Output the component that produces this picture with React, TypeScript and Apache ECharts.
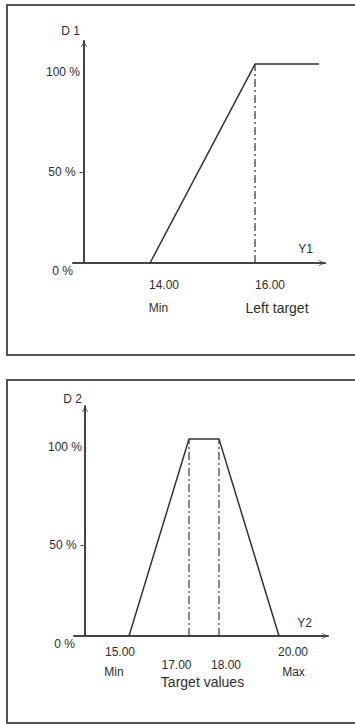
import React, { useEffect, useRef } from "react";
import * as echarts from "echarts";

// ---- data ----
const Y1_POINTS = [14, 16, 17.22];
const D1_POINTS = [0, 100, 100];
const Y1_TARGETS = [16];

const Y2_POINTS = [15, 17, 18, 20];
const D2_POINTS = [0, 100, 100, 0];
const Y2_TARGETS = [17, 18];

const D_TICKS = [0, 50, 100];
const D_TICK_LABELS = ["0 %", "50 % -", "100 %"];

const Y1_NUM_TICKS = [14, 16];
const Y1_NUM_LABELS = ["14.00", "16.00"];
const Y1_NAME_LABELS = ["Min", "Left target"];

const Y2_OUTER_TICKS = [15, 20];
const Y2_OUTER_LABELS = ["15.00", "20.00"];
const Y2_OUTER_NAMES = ["Min", "Max"];
const Y2_TARGET_TICKS = [17, 18];
const Y2_TARGET_LABELS = ["17.00", "18.00"];
const Y2_GROUP_TICK = [17.5];
const Y2_GROUP_LABEL = ["Target values"];

// ---- styling ----
const FONT = "'Liberation Sans', Arial, sans-serif";
const TXT = "#2e2e2e";
const LINE = "#333";
const AXIS = "#444";
const ARROW = "path://M0,10 L5,0 L10,10 L8.6,10 L5,2.6 L1.4,10 Z";

function idxOf(values: number[], v: number) {
  let best = 0;
  for (let i = 0; i < values.length; i++) {
    if (Math.abs(values[i] - v) < Math.abs(values[best] - v)) best = i;
  }
  return best;
}

function labelAxis(
  gridIndex: number,
  min: number,
  max: number,
  values: number[],
  labels: string[],
  shifts: number[],
  margin: number,
  sizes: number[]
) {
  const rich: any = {};
  values.forEach((_, i) => {
    const s = shifts[i] || 0;
    rich["s" + i] = {
      fontSize: sizes[i],
      fontFamily: FONT,
      color: TXT,
      padding: s >= 0 ? [0, 0, 0, 2 * s] : [0, -2 * s, 0, 0],
    };
  });
  return {
    type: "value",
    gridIndex,
    min,
    max,
    position: "bottom",
    axisLine: { show: false, onZero: false },
    axisTick: { show: false },
    splitLine: { show: false },
    axisLabel: {
      customValues: values,
      margin,
      align: "center",
      verticalAlign: "middle",
      fontSize: sizes[0],
      fontFamily: FONT,
      color: TXT,
      formatter: (v: number) => {
        const i = idxOf(values, v);
        return "{s" + i + "|" + labels[i] + "}";
      },
      rich,
    },
  };
}

function mainX(gridIndex: number, min: number, max: number, name: string, nameGap: number, padBottom: number) {
  return {
    type: "value",
    gridIndex,
    min,
    max,
    position: "bottom",
    name,
    nameLocation: "end",
    nameGap,
    nameTextStyle: {
      align: "right",
      verticalAlign: "bottom",
      padding: [0, 0, padBottom, 0],
      fontSize: 12,
      fontFamily: FONT,
      color: TXT,
    },
    axisLine: {
      show: true,
      onZero: false,
      symbol: ["none", ARROW],
      symbolSize: [8, 6],
      symbolOffset: [0, -3],
      lineStyle: { color: AXIS, width: 2 },
    },
    axisTick: { show: false },
    axisLabel: { show: false },
    splitLine: { show: false },
  };
}

function mainY(gridIndex: number, max: number, name: string, nameGap: number, padRight: number, labelPads: number[]) {
  const rich: any = {};
  D_TICKS.forEach((_, i) => {
    rich["d" + i] = {
      fontSize: 12,
      fontFamily: FONT,
      color: TXT,
      lineHeight: 16,
      padding: [0, labelPads[i], 0, 0],
    };
  });
  return {
    type: "value",
    gridIndex,
    min: 0,
    max,
    offset: -11,
    name,
    nameLocation: "end",
    nameGap,
    nameTextStyle: {
      align: "right",
      verticalAlign: "bottom",
      padding: [0, padRight, 0, 0],
      fontSize: 12,
      fontFamily: FONT,
      color: TXT,
    },
    axisLine: {
      show: true,
      onZero: false,
      symbol: ["none", ARROW],
      symbolSize: [8, 6],
      symbolOffset: [0, -3],
      lineStyle: { color: AXIS, width: 2 },
    },
    axisTick: { show: false },
    splitLine: { show: false },
    axisLabel: {
      customValues: D_TICKS,
      margin: 1,
      align: "right",
      verticalAlign: "top",
      fontSize: 12,
      fontFamily: FONT,
      color: TXT,
      formatter: (v: number) => {
        const i = idxOf(D_TICKS, v);
        return "{d" + i + "|" + D_TICK_LABELS[i] + "}";
      },
      rich,
    },
  };
}

export default function App() {
  const ref = useRef<HTMLDivElement>(null);

  useEffect(() => {
    if (!ref.current) return;
    const chart = echarts.init(ref.current, undefined, { renderer: "svg" });

    const x1min = 12.533, x1max = 17.333;
    const x2min = 13.167, x2max = 21.633;

    const targetSeries = (targets: number[], xAxisIndex: number, yAxisIndex: number) =>
      targets.map((t) => ({
        type: "line",
        xAxisIndex,
        yAxisIndex,
        symbol: "none",
        silent: true,
        data: [
          [t, 0],
          [t, 100],
        ],
        lineStyle: { color: LINE, width: 1.2, type: [8, 3, 2, 3] },
      }));

    const option: any = {
      animation: false,
      backgroundColor: "#fff",
      grid: [
        { left: 73, top: 41, width: 252, height: 222 },
        { left: 74, top: 406, width: 254, height: 230 },
      ],
      xAxis: [
        mainX(0, x1min, x1max, "Y1", -12, 8), // 0
        labelAxis(0, x1min, x1max, Y1_NUM_TICKS, Y1_NUM_LABELS, [14, 15], 22, [12, 12]), // 1
        labelAxis(0, x1min, x1max, Y1_NUM_TICKS, Y1_NAME_LABELS, [8.5, 22], 45, [12, 14]), // 2
        mainX(1, x2min, x2max, "Y2", -16, 7), // 3
        labelAxis(1, x2min, x2max, Y2_OUTER_TICKS, Y2_OUTER_LABELS, [-9, 14], 16, [12, 12]), // 4
        labelAxis(1, x2min, x2max, Y2_OUTER_TICKS, Y2_OUTER_NAMES, [-15, 14.5], 36, [12, 12]), // 5
        labelAxis(1, x2min, x2max, Y2_TARGET_TICKS, Y2_TARGET_LABELS, [-12.5, 7], 29, [12, 12]), // 6
        labelAxis(1, x2min, x2max, Y2_GROUP_TICK, Y2_GROUP_LABEL, [-1.5], 46, [14]), // 7
      ],
      yAxis: [mainY(0, 111.6, "D 1", 4, 4, [10, 0, 3]), mainY(1, 116.7, "D 2", 1, 3, [9, 0, 2])],
      series: [
        {
          type: "line",
          xAxisIndex: 0,
          yAxisIndex: 0,
          symbol: "none",
          data: Y1_POINTS.map((x, i) => [x, D1_POINTS[i]]),
          lineStyle: { color: LINE, width: 1.5 },
        },
        ...targetSeries(Y1_TARGETS, 0, 0),
        {
          type: "line",
          xAxisIndex: 3,
          yAxisIndex: 1,
          symbol: "none",
          data: Y2_POINTS.map((x, i) => [x, D2_POINTS[i]]),
          lineStyle: { color: LINE, width: 1.5 },
        },
        ...targetSeries(Y2_TARGETS, 3, 1),
      ],
      graphic: [
        {
          type: "rect",
          shape: { x: 7, y: 5, width: 370, height: 350 },
          style: { fill: "none", stroke: "#555", lineWidth: 2 },
          silent: true,
        },
        {
          type: "rect",
          shape: { x: 7, y: 380, width: 370, height: 343 },
          style: { fill: "none", stroke: "#555", lineWidth: 2 },
          silent: true,
        },
      ],
    };

    chart.setOption(option);
    return () => chart.dispose();
  }, []);

  return (
    <div
      ref={ref}
      style={{ position: "fixed", left: 0, top: 0, width: 355, height: 724, background: "#fff" }}
    />
  );
}
